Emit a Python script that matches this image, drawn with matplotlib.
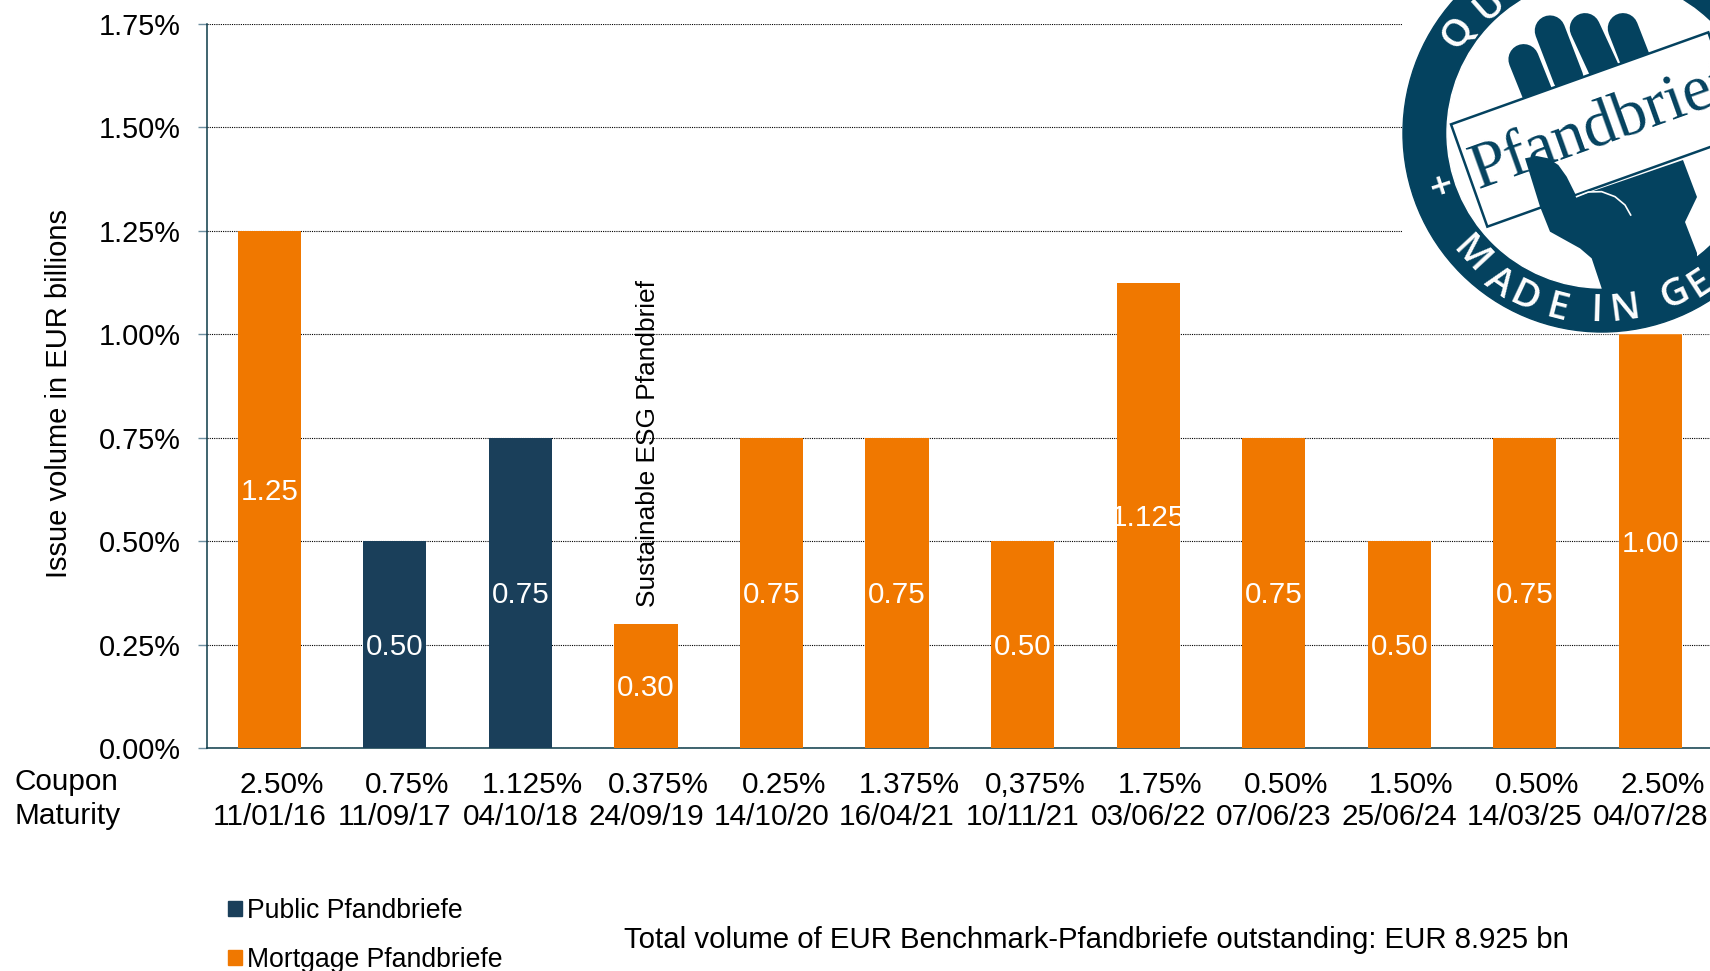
import numpy as np
import matplotlib
matplotlib.use('Agg')
import matplotlib.pyplot as plt
from matplotlib.patches import Circle, Polygon, Rectangle, Patch

plt.rcParams['font.family'] = ['Liberation Sans', 'DejaVu Sans']

maturities = ['11/01/16', '11/09/17', '04/10/18', '24/09/19', '14/10/20', '16/04/21',
              '10/11/21', '03/06/22', '07/06/23', '25/06/24', '14/03/25', '04/07/28']
coupons = ['2.50%', '0.75%', '1.125%', '0.375%', '0.25%', '1.375%',
           '0,375%', '1.75%', '0.50%', '1.50%', '0.50%', '2.50%']
volumes = [1.25, 0.50, 0.75, 0.30, 0.75, 0.75, 0.50, 1.125, 0.75, 0.50, 0.75, 1.00]
volume_labels = ['1.25', '0.50', '0.75', '0.30', '0.75', '0.75', '0.50', '1.125', '0.75', '0.50', '0.75', '1.00']
kinds = ['M', 'P', 'P', 'M', 'M', 'M', 'M', 'M', 'M', 'M', 'M', 'M']
y_ticks = [0, 0.25, 0.5, 0.75, 1.0, 1.25, 1.5, 1.75]

ORANGE = '#f07800'
NAVY = '#1a3f5a'
LOGO = '#04425f'
W, H = 1710, 971

fig = plt.figure(figsize=(W / 100, H / 100), dpi=100)
ax = fig.add_axes([206.5 / W, 1 - 748 / H, 1503.5 / W, 724 / H])

x = np.arange(len(volumes))
colors = [NAVY if k == 'P' else ORANGE for k in kinds]
bars = ax.bar(x, volumes, width=0.503, color=colors, zorder=3)
vals = ax.bar_label(bars, labels=volume_labels, label_type='center', color='white', fontsize=21.3, zorder=4)
for t in vals:
    t.xyann = (0, -1.8)

ax.set_xlim(-0.5, 11.475)
ax.set_ylim(0, 1.75)
ax.set_yticks(y_ticks)
ax.yaxis.set_major_formatter('{x:.2f}%')
ax.set_xticks([])
ax.tick_params(axis='y', length=6.5, width=1, color='#6f8fa0', pad=12, labelsize=20.8)
ax.grid(axis='y', color='black', lw=0.8, ls=(0, (1, 1)), zorder=1)
ax.set_axisbelow(True)
for s in ['top', 'right']:
    ax.spines[s].set_visible(False)
for s in ['left', 'bottom']:
    ax.spines[s].set_color('#0b3a48')
    ax.spines[s].set_linewidth(1.1)
ax.set_ylabel('Issue volume in EUR billions', fontsize=21)
ax.yaxis.set_label_coords(-0.0885, 0.49)

# coupon sits a little right of the date, same as the original slide
for i in x:
    ax.annotate(coupons[i], (i, 0), xytext=(8.8, -26.5), textcoords='offset points',
                ha='center', va='center', fontsize=21.4, annotation_clip=False)
    ax.annotate(maturities[i], (i, 0), xytext=(0, -50), textcoords='offset points',
                ha='center', va='center', fontsize=21.4, annotation_clip=False)
ax.annotate('Sustainable ESG Pfandbrief', (3, 0.30), xytext=(1.5, 12), textcoords='offset points',
            rotation=90, ha='center', va='bottom', fontsize=18.95)

handles = [Patch(color=NAVY, label='Public Pfandbriefe'), Patch(color=ORANGE, label='Mortgage Pfandbriefe')]
fig.legend(handles=handles, loc='upper left', bbox_to_anchor=(228 / W, 1 - 898 / H), frameon=False,
           fontsize=19.2, handlelength=0.53, handleheight=0.5, handletextpad=0.2,
           labelspacing=0.86, borderpad=0, borderaxespad=0)

# overlay in image pixels for free text and the seal
ov = fig.add_axes([0, 0, 1, 1], zorder=5)
ov.set_xlim(0, W)
ov.set_ylim(H, 0)
ov.axis('off')
ov.patch.set_alpha(0)

ov.text(14, 782, 'Coupon', fontsize=21.4, va='center')
ov.text(14, 816, 'Maturity', fontsize=21.4, va='center')
ov.text(624, 940, 'Total volume of EUR Benchmark-Pfandbriefe outstanding: EUR 8.925 bn', fontsize=21.2, va='center')

# seal
cx, cy = 1602, 133


def z(px, py):
    return 1380 + px / 3, py / 3


ov.add_patch(Rectangle((1403, 0), W - 1403, 333, color='white', zorder=1))
ov.add_patch(Circle((cx, cy), 199, color=LOGO, zorder=2))
ov.add_patch(Circle((cx, cy), 155, color='white', zorder=3))

fingers = [((431, 178), (480, 300)), ((510, 92), (565, 235)), ((615, 85), (675, 215)), ((729, 85), (770, 190))]
for a, b in fingers:
    p0, p1 = z(*a), z(*b)
    ov.plot([p0[0], p1[0]], [p0[1], p1[1]], color=LOGO, lw=22, solid_capstyle='round', zorder=4)

paper = [z(213, 373), z(985, 97), z(1094, 404), z(322, 680)]
ov.add_patch(Polygon(paper, closed=True, fc='white', ec=LOGO, lw=1.8, zorder=5, clip_on=False))
ov.text(*z(295, 570), 'Pfandbrief', family='Liberation Serif', fontsize=47, color=LOGO, rotation=19.7,
        rotation_mode='anchor', ha='left', va='baseline', zorder=6)

palm = [z(435, 475), z(470, 468), z(505, 475), z(535, 495), z(560, 530), z(590, 590),
        (1683, 160), (1697, 197), (1685, 222), (1697, 253), (1697, 290), (1602, 300),
        z(665, 865), z(635, 775), z(600, 745), z(510, 695), z(480, 620)]
ov.add_patch(Polygon(palm, closed=True, fc=LOGO, ec='none', zorder=7))
crease = [z(590, 590), z(625, 576), z(665, 575), z(705, 590), z(735, 615), z(752, 645)]
ov.plot([p[0] for p in crease], [p[1] for p in crease], color='white', lw=1.2, zorder=8)

ring_letters = [('Q', 1458, 32, 1), ('U', 1490, 5, 1), ('+', 1435, 187, 0), ('M', 1471, 255, 0),
                ('A', 1499, 283, 0), ('D', 1524, 298, 0), ('E', 1557, 309, 0), ('I', 1597, 311, 0),
                ('N', 1625, 309, 0), ('G', 1675, 294, 0), ('E', 1700, 284, 0)]
for ch, lx, ly, top in ring_letters:
    dx, dy = lx - cx, ly - cy
    rot = np.degrees(np.arctan2(-dx, -dy)) if top else np.degrees(np.arctan2(dx, dy))
    ov.text(lx, ly, ch, family='Open Sans', weight='semibold', fontsize=27.5, color='white', rotation=rot,
            rotation_mode='anchor', ha='center', va='center', zorder=9)

fig.savefig('out.png', dpi=100)
